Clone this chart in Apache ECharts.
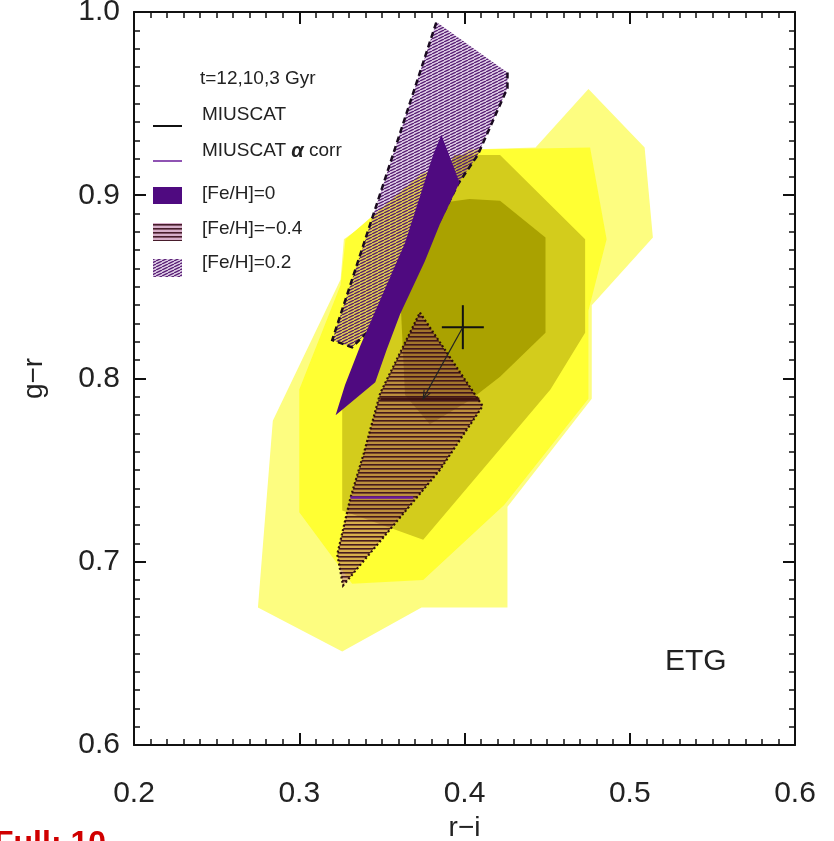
<!DOCTYPE html>
<html><head><meta charset="utf-8">
<script src="https://cdn.jsdelivr.net/npm/echarts@6.0.0/dist/echarts.min.js"></script>
<style>html,body{margin:0;padding:0;background:#fff}#c{width:834px;height:841px}</style>
</head><body><div id="c"></div>
<script>
// ---- data (r-i, g-r) ----
const xTickLabels = ['0.2','0.3','0.4','0.5','0.6'];
const yTickLabels = ['0.6','0.7','0.8','0.9','1.0'];
// ETG density contours (outer -> inner)
const contourPale = [[0.475,0.958],[0.509,0.926],[0.514,0.877],[0.477,0.840],[0.477,0.789],[0.426,0.730],[0.426,0.675],[0.374,0.675],[0.326,0.651],[0.275,0.675],[0.284,0.777],[0.325,0.854],[0.327,0.876],[0.403,0.925],[0.443,0.926]];
const contourBright = [[0.409,0.925],[0.476,0.926],[0.486,0.876],[0.475,0.837],[0.475,0.789],[0.424,0.731],[0.375,0.690],[0.332,0.688],[0.300,0.727],[0.300,0.794],[0.325,0.851],[0.328,0.876],[0.373,0.911]];
const contourOlive = [[0.394,0.922],[0.4215,0.922],[0.473,0.876],[0.473,0.825],[0.452,0.794],[0.375,0.712],[0.326,0.728],[0.326,0.783],[0.349,0.827],[0.367,0.881]];
const contourDark = [[0.379,0.895],[0.403,0.898],[0.4215,0.897],[0.449,0.877],[0.449,0.825],[0.4215,0.801],[0.403,0.788],[0.379,0.775],[0.364,0.791],[0.361,0.848]];
// model regions
const feh02 = [[0.383,0.9945],[0.426,0.967],[0.426,0.9585],[0.408,0.922],[0.396,0.906],[0.361,0.843],[0.332,0.817],[0.320,0.821]];
const feh0 = [[0.386,0.933],[0.397,0.907],[0.385,0.884],[0.376,0.864],[0.361,0.835],[0.353,0.816],[0.346,0.798],[0.322,0.780],[0.3277,0.7965],[0.337,0.818],[0.351,0.847],[0.364,0.874],[0.374,0.902],[0.381,0.922]];
const fehM04 = [[0.373,0.836],[0.411,0.785],[0.385,0.750],[0.3265,0.687],[0.323,0.704],[0.331,0.735],[0.339,0.759],[0.349,0.792]];
const miuscatLine = [[0.349,0.789],[0.409,0.789]];
const miuscatAlphaLine = [[0.331,0.735],[0.369,0.735]];
const etgMean = [0.399,0.828];
const etgErr = [0.0127,0.012];
const arrowEnd = [0.375,0.789];

// ---- patterns ----
function makeHatch(){
  const c=document.createElement('canvas'); c.width=6; c.height=3;
  const g=c.getContext('2d');
  g.fillStyle='rgba(140,80,165,0.28)'; g.fillRect(0,0,6,3);
  g.strokeStyle='rgba(80,20,110,0.95)'; g.lineWidth=1.3;
  for(const o of [-6,0,6]){ g.beginPath(); g.moveTo(o,3); g.lineTo(o+6,0); g.stroke(); }
  return c;
}
function makeStripe(){
  const c=document.createElement('canvas'); c.width=4; c.height=4;
  const g=c.getContext('2d');
  g.fillStyle='rgba(150,45,115,0.38)'; g.fillRect(0,0,4,4);
  g.fillStyle='rgba(55,12,25,0.9)'; g.fillRect(0,0,4,1.6);
  return c;
}
const hatchPat={image:makeHatch(),repeat:'repeat'};
const stripePat={image:makeStripe(),repeat:'repeat'};

function polySeries(pts, style, z, extra){
  return {type:'custom', coordinateSystem:'cartesian2d', silent:true, z:z, clip:true,
    data:[pts[0]],
    renderItem:function(params, api){
      const P=pts.map(p=>api.coord(p));
      const children=[{type:'polygon', shape:{points:P}, style:style}];
      if(extra) children.push(...extra(P));
      return {type:'group', children};
    }};
}

const FONT='Liberation Sans';
const chart=echarts.init(document.getElementById('c'),null,{renderer:'canvas'});

function axisCommon(showLabel){
  return {
    type:'value', interval:0.1,
    axisLine:{show:true,onZero:false,lineStyle:{color:'#111',width:2}},
    axisTick:{show:true,inside:true,length:12,lineStyle:{color:'#111',width:2}},
    minorTick:{show:true,splitNumber:10,length:6,lineStyle:{color:'#111',width:1.5}},
    splitLine:{show:false},
    axisLabel:{show:showLabel,fontFamily:FONT,fontSize:30,color:'#222'}
  };
}
const xBottom=Object.assign(axisCommon(true),{min:0.2,max:0.6,position:'bottom',name:'r−i',nameLocation:'middle',nameGap:66,
  nameTextStyle:{fontFamily:FONT,fontSize:28,color:'#222'}});
xBottom.axisLabel.margin=34; xBottom.axisLabel.formatter=v=>xTickLabels[Math.round((v-0.2)*10)];
const xTop=Object.assign(axisCommon(false),{min:0.2,max:0.6,position:'top'});
const yLeft=Object.assign(axisCommon(true),{min:0.6,max:1.0,position:'left',name:'g−r',nameLocation:'middle',nameGap:86,
  nameTextStyle:{fontFamily:FONT,fontSize:28,color:'#222'}});
yLeft.axisLabel.margin=14; yLeft.axisLabel.formatter=v=>yTickLabels[Math.round((v-0.6)*10)];
const yRight=Object.assign(axisCommon(false),{min:0.6,max:1.0,position:'right'});

const series=[
  polySeries(contourPale,{fill:'#fdfd80'},1),
  polySeries(contourBright,{fill:'#ffff33'},2),
  polySeries(contourOlive,{fill:'#d3cc1c'},3),
  polySeries(contourDark,{fill:'#aaa200'},4),
  polySeries(feh02,{fill:hatchPat},5,function(P){
    const line=P.slice(1).concat([P[0]]);
    return [{type:'polyline',shape:{points:line},style:{stroke:'#1a0a20',lineWidth:2.5,lineDash:[6,4],fill:null}}];
  }),
  polySeries(feh0,{fill:'#4f0a80'},6),
  polySeries(fehM04,{fill:stripePat},7,function(P){
    return [{type:'polygon',shape:{points:P},style:{stroke:'rgba(40,8,10,0.95)',lineWidth:2.2,lineDash:[2,2.4],fill:null}}];
  }),
  {type:'custom',coordinateSystem:'cartesian2d',silent:true,z:8,data:[miuscatLine[0]],
    renderItem:function(p,api){
      const a=api.coord(miuscatLine[0]),b=api.coord(miuscatLine[1]);
      const c=api.coord(miuscatAlphaLine[0]),d=api.coord(miuscatAlphaLine[1]);
      return {type:'group',children:[
        {type:'line',shape:{x1:a[0],y1:a[1],x2:b[0],y2:b[1]},style:{stroke:'rgba(60,15,15,0.95)',lineWidth:2.5}},
        {type:'line',shape:{x1:c[0],y1:c[1],x2:d[0],y2:d[1]},style:{stroke:'#6a1a9a',lineWidth:2.5}}
      ]};
    }},
  {type:'custom',coordinateSystem:'cartesian2d',silent:true,z:9,data:[etgMean],
    renderItem:function(p,api){
      const c=api.coord(etgMean);
      const l=api.coord([etgMean[0]-etgErr[0],etgMean[1]]), r=api.coord([etgMean[0]+etgErr[0],etgMean[1]]);
      const t=api.coord([etgMean[0],etgMean[1]+etgErr[1]]), b=api.coord([etgMean[0],etgMean[1]-etgErr[1]]);
      const e=api.coord(arrowEnd);
      const ang=Math.atan2(e[1]-c[1],e[0]-c[0]);
      const h=9, s=0.4;
      const h1=[e[0]-h*Math.cos(ang-s),e[1]-h*Math.sin(ang-s)], h2=[e[0]-h*Math.cos(ang+s),e[1]-h*Math.sin(ang+s)];
      return {type:'group',children:[
        {type:'line',shape:{x1:l[0],y1:l[1],x2:r[0],y2:r[1]},style:{stroke:'#111',lineWidth:2}},
        {type:'line',shape:{x1:t[0],y1:t[1],x2:b[0],y2:b[1]},style:{stroke:'#111',lineWidth:2}},
        {type:'line',shape:{x1:c[0],y1:c[1],x2:e[0],y2:e[1]},style:{stroke:'#222',lineWidth:1.2}},
        {type:'polyline',shape:{points:[h1,e,h2]},style:{stroke:'#222',lineWidth:1.2,fill:null}}
      ]};
    }}
];

const txt={fontFamily:FONT,fontSize:19,fill:'#222'};
const graphic=[
  {type:'text',left:200,top:69,style:Object.assign({text:'t=12,10,3 Gyr'},txt)},
  {type:'line',shape:{x1:153,y1:126,x2:182,y2:126},style:{stroke:'#111',lineWidth:2}},
  {type:'text',left:202,top:105,style:Object.assign({text:'MIUSCAT'},txt)},
  {type:'line',shape:{x1:153,y1:161,x2:182,y2:161},style:{stroke:'#6a1a9a',lineWidth:1.5}},
  {type:'text',left:202,top:141,style:Object.assign({text:'MIUSCAT {a|α} corr',rich:{a:{fontFamily:FONT,fontSize:20,fontWeight:'bold',fontStyle:'italic',fill:'#222'}}},txt)},
  {type:'rect',shape:{x:153,y:187,width:29,height:17},style:{fill:'#4f0a80'}},
  {type:'text',left:202,top:184,style:Object.assign({text:'[Fe/H]=0'},txt)},
  {type:'rect',shape:{x:153,y:223,width:29,height:18},style:{fill:stripePat}},
  {type:'text',left:202,top:219,style:Object.assign({text:'[Fe/H]=−0.4'},txt)},
  {type:'rect',shape:{x:153,y:259,width:29,height:18},style:{fill:hatchPat}},
  {type:'text',left:202,top:253,style:Object.assign({text:'[Fe/H]=0.2'},txt)},
  {type:'text',left:665,top:647,style:{text:'ETG',fontFamily:FONT,fontSize:30,fill:'#222'}},
  {type:'text',left:-6,top:828,style:{text:'Full: 10',fontFamily:FONT,fontSize:32,fontWeight:'bold',fill:'#d00000'}}
];

chart.setOption({
  animation:false,
  backgroundColor:'#fff',
  grid:{left:134,right:39,top:12,bottom:96,containLabel:false,outerBoundsMode:'none'},
  xAxis:[xBottom,xTop],
  yAxis:[yLeft,yRight],
  series:series,
  graphic:graphic
});
</script></body></html>
